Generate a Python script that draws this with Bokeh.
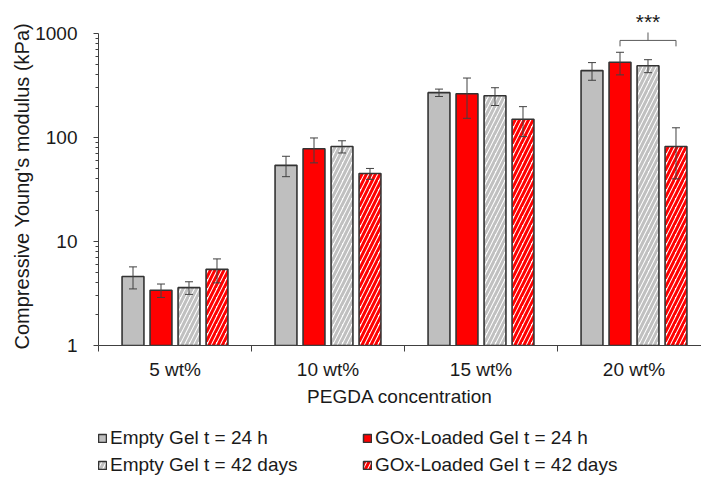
from bokeh.plotting import figure
from bokeh.layouts import column
from bokeh.models import (Range1d, FixedTicker, ColumnDataSource, Whisker, TeeHead,
                          Legend, LegendItem, Label, Arrow, BasicTickFormatter, Title)
from bokeh.embed import file_html
from bokeh.resources import INLINE

categories = ["5 wt%", "10 wt%", "15 wt%", "20 wt%"]
series_names = ["Empty Gel t = 24 h", "GOx-Loaded Gel t = 24 h",
                "Empty Gel t = 42 days", "GOx-Loaded Gel t = 42 days"]
empty_24h = [4.6, 54, 270, 440]
empty_24h_err = [1.1, 12, 22, 85]
gox_24h = [3.4, 78, 263, 530]
gox_24h_err = [0.5, 21, 110, 130]
empty_42d = [3.6, 82, 252, 490]
empty_42d_err = [0.5, 11, 49, 70]
gox_42d = [5.4, 45, 150, 82]
gox_42d_err = [1.4, 5.4, 48, 42]
y_ticks = [1, 10, 100, 1000]

# significance annotation: group index, pair of series compared
sig_group = 3
sig_pair = (1, 3)
sig_text = "***"

values = [empty_24h, gox_24h, empty_42d, gox_42d]
errors = [empty_24h_err, gox_24h_err, empty_42d_err, gox_42d_err]
offsets = [-0.2745, -0.0915, 0.0915, 0.2745]
bar_w = 0.143
FONT = "Liberation Sans"
TXT = "#1a1a1a"
AX = "#404040"

styles = [
    dict(fill_color="#bfbfbf"),
    dict(fill_color="#ff0000"),
    dict(fill_color="white", hatch_pattern="/", hatch_color="#c0c0c0", hatch_scale=9, hatch_weight=3),
    dict(fill_color="white", hatch_pattern="/", hatch_color="#ff0000", hatch_scale=9, hatch_weight=3),
]

n = len(categories)
x_end = 0.5 + 603 / 153.0
y_top = y_ticks[-1] * 10 ** (33 / 104.0)
p = figure(width=701, height=410, y_axis_type="log",
           x_range=Range1d(0.5, x_end), y_range=Range1d(y_ticks[0], y_top),
           output_backend="svg", toolbar_location=None,
           min_border_left=98, min_border_right=0, min_border_top=0, min_border_bottom=65)
p.outline_line_color = None
p.xgrid.visible = False
p.ygrid.visible = False
p.background_fill_color = "white"
p.border_fill_color = "white"

sources = []
renderers = []
for s in range(4):
    xs = [i + 1 + offsets[s] for i in range(n)]
    src = ColumnDataSource(dict(x=xs, top=values[s],
                                upper=[v + e for v, e in zip(values[s], errors[s])],
                                lower=[v - e for v, e in zip(values[s], errors[s])]))
    sources.append(src)
    r = p.vbar(x="x", top="top", bottom=y_ticks[0], width=bar_w, source=src,
               line_color="#333333", line_width=1.6, **styles[s])
    renderers.append(r)
    w = Whisker(base="x", upper="upper", lower="lower", source=src, level="overlay",
                line_color=AX, line_width=1,
                upper_head=TeeHead(size=8, line_color=AX, line_width=1),
                lower_head=TeeHead(size=8, line_color=AX, line_width=1))
    p.add_layout(w)

# axes
xa = p.xaxis[0]
xa.ticker = FixedTicker(ticks=[i + 1 for i in range(n)], minor_ticks=[i + 0.5 for i in range(n + 1)])
xa.major_label_overrides = {i + 1: c for i, c in enumerate(categories)}
xa.axis_label = "PEGDA concentration"
xa.major_tick_out = 0
xa.major_tick_in = 0
xa.minor_tick_out = 6
xa.minor_tick_in = 0
xa.major_label_standoff = 7
xa.axis_label_standoff = 3

ya = p.yaxis[0]
ya.ticker = FixedTicker(ticks=y_ticks,
                        minor_ticks=[m * t for t in y_ticks[:-1] for m in range(2, 10)])
ya.formatter = BasicTickFormatter()
ya.bounds = (y_ticks[0], y_ticks[-1])
ya.major_tick_out = 5
ya.major_tick_in = 0
ya.minor_tick_out = 3
ya.minor_tick_in = 0
ya.major_label_standoff = 16

for ax in (xa, ya):
    ax.axis_line_color = AX
    ax.major_tick_line_color = AX
    ax.minor_tick_line_color = AX
    ax.major_label_text_font = FONT
    ax.major_label_text_font_size = "19px"
    ax.major_label_text_color = TXT
    ax.axis_label_text_font = FONT
    ax.axis_label_text_font_size = "19px"
    ax.axis_label_text_font_style = "normal"
    ax.axis_label_text_color = TXT

ytitle = Title(text="Compressive Young's modulus (kPa)", align="left", offset=-4,
               text_font=FONT, text_font_size="20px", text_font_style="normal",
               text_color=TXT, standoff=0)
p.add_layout(ytitle, "left")

# significance bracket
gx = sig_group + 1
xl = gx + offsets[sig_pair[0]]
xr = gx + offsets[sig_pair[1]]
xm = (xl + xr) / 2
ref = max(values[k][sig_group] + errors[k][sig_group] for k in range(4))
y_bar = ref * 1.30
y_end = ref * 1.14
y_tip = ref * 1.55
y_txt = ref * 1.98
for (x0, y0, x1, y1) in [(xl, y_end, xl, y_bar), (xl, y_bar, xr, y_bar),
                         (xr, y_bar, xr, y_end), (xm, y_bar, xm, y_tip)]:
    p.add_layout(Arrow(end=None, start=None, x_start=x0, y_start=y0, x_end=x1, y_end=y1,
                       line_color="#595959", line_width=1))
p.add_layout(Label(x=xm, y=y_txt, text=sig_text, text_align="center", text_baseline="middle",
                   text_font=FONT, text_font_size="21px", text_color=TXT))

# legend figure underneath (its renderers are hidden; only the legend shows)
lf = figure(width=701, height=67, x_range=Range1d(0, 1), y_range=Range1d(0, 1),
            output_backend="svg", toolbar_location=None,
            min_border_left=0, min_border_right=0, min_border_top=0, min_border_bottom=0)
lf.axis.visible = False
lf.grid.visible = False
lf.outline_line_color = None
lf.border_fill_color = "white"
lrs = []
for s in range(4):
    lrs.append(lf.vbar(x="x", top="top", width=bar_w, source=sources[s], visible=False,
                       line_color="#333333", line_width=1.5, **styles[s]))

leg_kw = dict(orientation="horizontal", glyph_width=10, glyph_height=10, label_standoff=3,
              label_width=246, spacing=6, padding=0, margin=0,
              inactive_fill_alpha=0,
              label_text_font=FONT, label_text_font_size="19px", label_text_color=TXT,
              border_line_alpha=0, background_fill_alpha=0)
leg1 = Legend(items=[LegendItem(label=series_names[k], renderers=[lrs[k]]) for k in (0, 1)],
              location=(-1, 28), **leg_kw)
leg2 = Legend(items=[LegendItem(label=series_names[k], renderers=[lrs[k]]) for k in (2, 3)],
              location=(-1, 1), **leg_kw)
lf.add_layout(leg1)
lf.add_layout(leg2)

open("out.html", "w").write(file_html(column(p, lf, spacing=0), INLINE))
